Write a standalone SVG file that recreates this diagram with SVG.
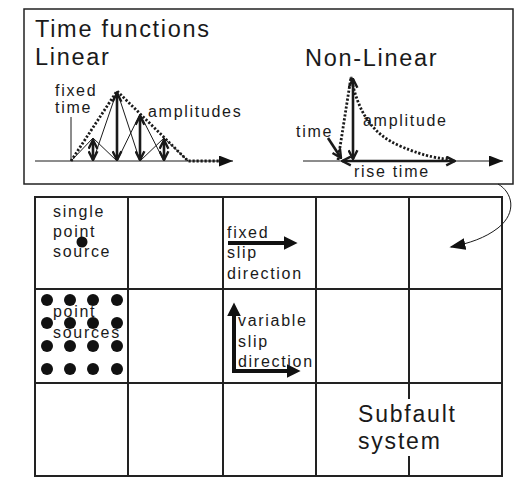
<svg xmlns="http://www.w3.org/2000/svg" width="518" height="485" viewBox="0 0 518 485">
<defs>
<style>
text{font-family:"Liberation Sans",Arial,sans-serif;fill:#1a1a1a}
.big{font-size:23.5px;letter-spacing:1.7px}
.sm{font-size:16px;letter-spacing:1.7px}
.sub{font-size:23px;letter-spacing:1.8px}
.thin{stroke:#1a1a1a;stroke-width:1;fill:none}
.dot{stroke:#1a1a1a;stroke-width:2.8;stroke-dasharray:2.2 1.8;fill:none}
.amp{stroke:#1a1a1a;stroke-width:2.6;fill:none}
.slip{stroke:#111;stroke-width:4;fill:none}
.grid{stroke:#222;stroke-width:2;fill:none}
</style>
<marker id="chev" viewBox="0 0 10 10" refX="9" refY="5" markerWidth="11" markerHeight="11" markerUnits="userSpaceOnUse" orient="auto-start-reverse">
<path d="M1,1 L9,5 L1,9" fill="none" stroke="#1a1a1a" stroke-width="2.2"/>
</marker>
<marker id="axhead" viewBox="0 0 10 10" refX="10" refY="5" markerWidth="14" markerHeight="11" markerUnits="userSpaceOnUse" orient="auto" preserveAspectRatio="none">
<path d="M0,0 L10,5 L0,10z" fill="#111"/>
</marker>
<marker id="slipHead" viewBox="0 0 10 10" refX="6" refY="5" markerWidth="14" markerHeight="14" markerUnits="userSpaceOnUse" orient="auto-start-reverse" preserveAspectRatio="none">
<path d="M0,0 L10,5 L0,10z" fill="#111"/>
</marker>
<marker id="curveHead" viewBox="0 0 10 10" refX="9" refY="5" markerWidth="16" markerHeight="12" markerUnits="userSpaceOnUse" orient="auto" preserveAspectRatio="none">
<path d="M0,0 L10,5 L0,10z" fill="#111"/>
</marker>
</defs>
<rect width="518" height="485" fill="#fff"/>

<g id="time-functions-box">
<rect x="24" y="9" width="489" height="175" fill="#fff" stroke="#222" stroke-width="1.5"/>
<text class="big" x="35" y="37">Time functions</text>
<text class="big" x="35" y="65">Linear</text>
<text class="big" x="305" y="66">Non-Linear</text>
</g>

<g id="linear-function">
<path class="thin" d="M35,161 L233,161" marker-end="url(#axhead)"/>
<path class="thin" d="M71,161 L71,117"/>
<path class="thin" d="M71,161 L93,138 L117,161 M93,161 L117,91 L140,161 M117,161 L140,114 L164,161 M140,161 L164,138 L188,161"/>
<path class="dot" d="M71,161 L117,91 L188,161 L221,161"/>
<path class="amp" d="M93,140 L93,160" marker-start="url(#chev)" marker-end="url(#chev)"/>
<path class="amp" d="M117,93 L117,160" marker-start="url(#chev)" marker-end="url(#chev)"/>
<path class="amp" d="M140,116 L140,160" marker-start="url(#chev)" marker-end="url(#chev)"/>
<path class="amp" d="M164,140 L164,160" marker-start="url(#chev)" marker-end="url(#chev)"/>
<text class="sm" x="55" y="96">fixed</text>
<text class="sm" x="55" y="113">time</text>
<text class="sm" x="148" y="117">amplitudes</text>
</g>

<g id="nonlinear-function">
<path class="thin" d="M303,161 L503,161" marker-end="url(#axhead)"/>
<path class="dot" d="M338,160 L351,77 C358,112 372,134 400,146 S440,158 452,160"/>
<path class="amp" d="M353,79 L353,159" marker-start="url(#chev)" marker-end="url(#chev)"/>
<path class="amp" stroke-width="3" d="M342,161 L455,161" marker-start="url(#chev)" marker-end="url(#chev)"/>
<path class="amp" stroke-width="2" d="M328,138 L341,158" marker-end="url(#chev)"/>
<text class="sm" x="296" y="137">time</text>
<text class="sm" x="363" y="126">amplitude</text>
<text class="sm" x="354" y="177">rise time</text>
</g>

<g id="grid">
<rect class="grid" x="35" y="197" width="467" height="279"/>
<path class="grid" d="M128,197 V476 M223,197 V476 M316,197 V476 M409,197 V476 M35,289 H502 M35,383 H502"/>
</g>

<g id="connectors">
<path class="thin" d="M498,184 C512,192 518,212 498,228 C485,238 470,243 451,247" marker-end="url(#curveHead)"/>
</g>

<g id="single-point-source">
<circle cx="82" cy="242" r="5.5" fill="#111"/>
<text class="sm" x="53" y="217">single</text>
<text class="sm" x="53" y="237">point</text>
<text class="sm" x="53" y="257">source</text>
</g>

<g id="point-sources" fill="#111">
<circle cx="47" cy="300" r="6"/><circle cx="70" cy="300" r="6"/><circle cx="93" cy="300" r="6"/><circle cx="117" cy="300" r="6"/>
<circle cx="47" cy="323" r="6"/><circle cx="70" cy="323" r="6"/><circle cx="93" cy="323" r="6"/><circle cx="117" cy="323" r="6"/>
<circle cx="47" cy="346" r="6"/><circle cx="70" cy="346" r="6"/><circle cx="93" cy="346" r="6"/><circle cx="117" cy="346" r="6"/>
<circle cx="47" cy="369" r="6"/><circle cx="70" cy="369" r="6"/><circle cx="93" cy="369" r="6"/><circle cx="117" cy="369" r="6"/>
<text class="sm" x="53" y="317">point</text>
<text class="sm" x="53" y="338">sources</text>
</g>

<g id="fixed-slip">
<path class="slip" d="M228,243 L292,243" marker-end="url(#slipHead)"/>
<text class="sm" x="227" y="238">fixed</text>
<text class="sm" x="227" y="258">slip</text>
<text class="sm" x="227" y="279">direction</text>
</g>

<g id="variable-slip">
<path class="slip" d="M234,308 L234,371 L295,371" marker-start="url(#slipHead)" marker-end="url(#slipHead)"/>
<text class="sm" x="238" y="326">variable</text>
<text class="sm" x="238" y="347">slip</text>
<text class="sm" x="238" y="367">direction</text>
</g>

<g id="subfault-system">
<rect x="404" y="399" width="10" height="57" fill="#fff"/>
<text class="sub" x="358" y="422">Subfault</text>
<text class="sub" x="358" y="449">system</text>
</g>
</svg>
